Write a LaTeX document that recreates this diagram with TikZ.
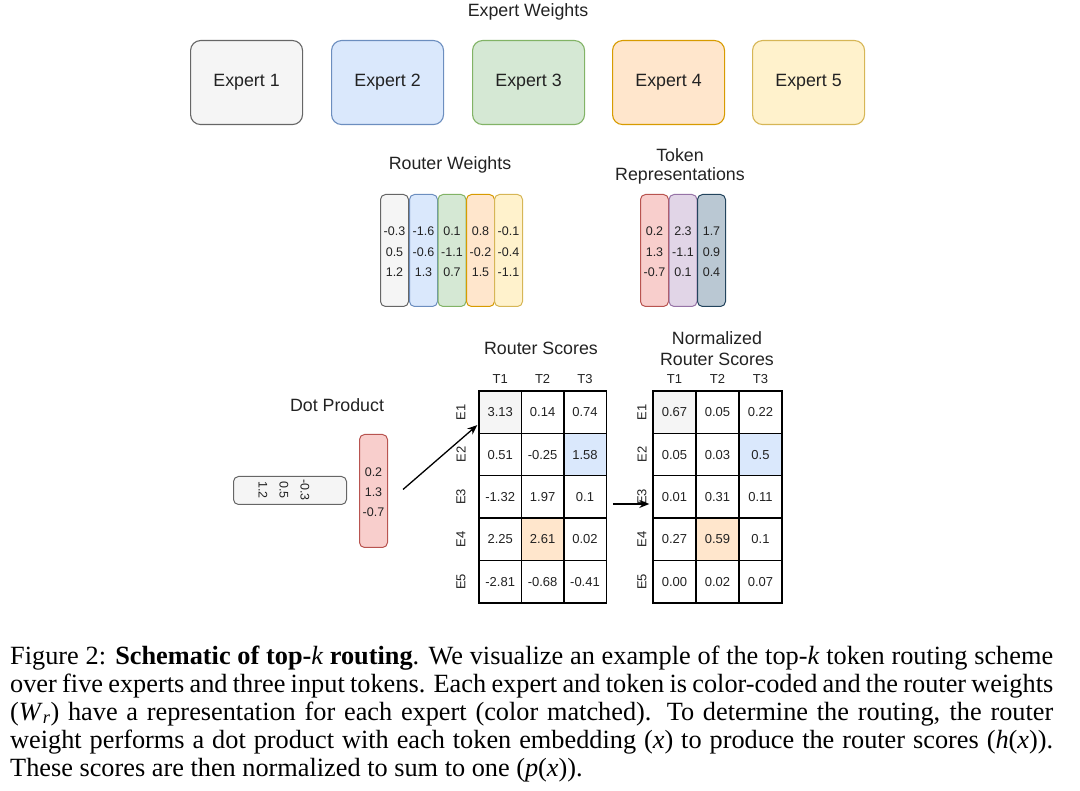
\documentclass[tikz,border=0pt]{standalone}
\usepackage{fontspec}
\setmainfont{Liberation Serif}
\newfontfamily\dsans{Liberation Sans}
\usetikzlibrary{arrows.meta}
\definecolor{gF}{HTML}{F5F5F5}\definecolor{gS}{HTML}{666666}
\definecolor{bF}{HTML}{DAE8FC}\definecolor{bS}{HTML}{6C8EBF}
\definecolor{grF}{HTML}{D5E8D4}\definecolor{grS}{HTML}{82B366}
\definecolor{oF}{HTML}{FFE6CC}\definecolor{oS}{HTML}{D79B00}
\definecolor{yF}{HTML}{FFF2CC}\definecolor{yS}{HTML}{D6B656}
\definecolor{rF}{HTML}{F8CECC}\definecolor{rS}{HTML}{B85450}
\definecolor{pF}{HTML}{E1D5E7}\definecolor{pS}{HTML}{9673A6}
\definecolor{sF}{HTML}{BAC8D3}\definecolor{sS}{HTML}{23445D}
\definecolor{txt}{HTML}{222222}
\begin{document}
\begin{tikzpicture}[x=1pt,y=-1pt,
  lbl/.style={font=\dsans\fontsize{17.8}{21}\selectfont, text=txt, inner sep=0},
  expbox/.style={draw, line width=1.1pt, rounded corners=10pt, minimum width=112pt, minimum height=84pt, font=\dsans\fontsize{17.8}{21}\selectfont, text=txt, anchor=north west},
  wcol/.style={draw, line width=1pt, rounded corners=5pt, minimum width=28pt, minimum height=112pt, anchor=north west, inner sep=0},
  num/.style={font=\dsans\fontsize{12.5}{15}\selectfont, text=txt, inner sep=0},
  cell/.style={draw=black, line width=1.4pt, minimum width=42.4pt, minimum height=42.4pt, inner sep=0, font=\dsans\fontsize{13}{16}\selectfont, text=txt},
  hdr/.style={font=\dsans\fontsize{13}{16}\selectfont, text=txt, inner sep=0},
  arr/.style={line width=1.3pt, -{Stealth[length=10pt,width=8pt]}},
  captext/.style={anchor=base west, inner sep=0, font=\fontsize{26.3}{28}\selectfont}
]
\useasboundingbox (0,0) rectangle (1080,791);

% Expert weights
\node[lbl] (ewt) at (528,12) {Expert Weights};
\node[expbox, fill=gF, draw=gS] (e1) at (190,40) {Expert 1};
\node[expbox, fill=bF, draw=bS] (e2) at (331,40) {Expert 2};
\node[expbox, fill=grF, draw=grS] (e3) at (472,40) {Expert 3};
\node[expbox, fill=oF, draw=oS] (e4) at (612,40) {Expert 4};
\node[expbox, fill=yF, draw=yS] (e5) at (752,40) {Expert 5};

% Router weights
\node[lbl] (rwt) at (450,165) {Router Weights};
\node[wcol, fill=gF, draw=gS] (w1) at (380,194) {};
\node[wcol, fill=bF, draw=bS] (w2) at (409,194) {};
\node[wcol, fill=grF, draw=grS] (w3) at (437.5,194) {};
\node[wcol, fill=oF, draw=oS] (w4) at (466,194) {};
\node[wcol, fill=yF, draw=yS] (w5) at (494,194) {};
\foreach \a/\b/\c [count=\k] in {-0.3/0.5/1.2, -1.6/-0.6/1.3, 0.1/-1.1/0.7, 0.8/-0.2/1.5, -0.1/-0.4/-1.1}{
  \node[num] (wv\k a) at (w\k.center |- 0,231) {\a};
  \node[num] (wv\k b) at (w\k.center |- 0,252) {\b};
  \node[num] (wv\k c) at (w\k.center |- 0,272) {\c};
}

% Token representations
\node[lbl] (tk1) at (680,155) {Token};
\node[lbl] (tk2) at (680,176) {Representations};
\node[wcol, fill=rF, draw=rS] (t1) at (640,194) {};
\node[wcol, fill=pF, draw=pS] (t2) at (668.5,194) {};
\node[wcol, fill=sF, draw=sS] (t3) at (697,194) {};
\foreach \a/\b/\c [count=\k] in {0.2/1.3/-0.7, 2.3/-1.1/0.1, 1.7/0.9/0.4}{
  \node[num] (tv\k a) at (t\k.center |- 0,231) {\a};
  \node[num] (tv\k b) at (t\k.center |- 0,252) {\b};
  \node[num] (tv\k c) at (t\k.center |- 0,272) {\c};
}

% Dot product
\node[lbl] (dpl) at (337,405) {Dot Product};
\node[draw=gS, fill=gF, line width=1pt, rounded corners=5pt, minimum width=113pt, minimum height=28pt, anchor=north west] (hw) at (233,476) {};
\node[num, rotate=-90] (h1) at (263,490) {1.2};
\node[num, rotate=-90] (h2) at (284,490) {0.5};
\node[num, rotate=-90] (h3) at (305,490) {-0.3};
\node[draw=rS, fill=rF, line width=1pt, rounded corners=5pt, minimum width=28pt, minimum height=113pt, anchor=north west] (dv) at (359,434) {};
\node[num] (d1) at (373.5,472) {0.2};
\node[num] (d2) at (373.5,492) {1.3};
\node[num] (d3) at (373.5,512) {-0.7};

% Router scores
\node[lbl] (rsl) at (541,348) {Router Scores};
\fill[gF] (479,391) rectangle +(42.4,42.4);
\fill[bF] (563.8,433.4) rectangle +(42.4,42.4);
\fill[oF] (521.4,518.2) rectangle +(42.4,42.4);
\foreach \t [count=\j] in {T1,T2,T3}{
  \node[hdr] (rt\j) at ({479+42.4*(\j-0.5)},379) {\t};
}
\foreach \r [count=\i] in {{3.13,0.14,0.74},{0.51,-0.25,1.58},{-1.32,1.97,0.1},{2.25,2.61,0.02},{-2.81,-0.68,-0.41}}{
  \node[hdr, rotate=90] (re\i) at (461,{391+42.4*(\i-0.5)}) {E\i};
  \foreach \v [count=\j] in \r {
    \node[cell] (rs-\i-\j) at ({479+42.4*(\j-0.5)},{391+42.4*(\i-0.5)}) {\v};
  }
}

% Normalized router scores
\node[lbl] (nsl1) at (717,338) {Normalized};
\node[lbl] (nsl2) at (717,359) {Router Scores};
\fill[gF] (653,391) rectangle +(43,42.4);
\fill[bF] (739,433.4) rectangle +(43,42.4);
\fill[oF] (696,518.2) rectangle +(43,42.4);
\foreach \t [count=\j] in {T1,T2,T3}{
  \node[hdr] (nt\j) at ({653+43*(\j-0.5)},379) {\t};
}
\foreach \r [count=\i] in {{0.67,0.05,0.22},{0.05,0.03,0.5},{0.01,0.31,0.11},{0.27,0.59,0.1},{0.00,0.02,0.07}}{
  \node[hdr, rotate=90] (ne\i) at (642,{391+42.4*(\i-0.5)}) {E\i};
  \foreach \v [count=\j] in \r {
    \node[cell, minimum width=43pt] (ns-\i-\j) at ({653+43*(\j-0.5)},{391+42.4*(\i-0.5)}) {\v};
  }
}

% Connectors
\coordinate (a1s) at ([xshift=15pt,yshift=1.5pt]dv.east);
\coordinate (a1e) at ([xshift=-1pt,yshift=9pt]rs-1-1.south west);
\draw[arr] (a1s) -- (a1e);
\coordinate (a2s) at ([xshift=6pt,yshift=-7pt]rs-3-3.east);
\coordinate (a2e) at ([xshift=-3pt,yshift=-7pt]ns-3-1.west);
\draw[arr] (a2s) -- (a2e);

% Caption
\node[captext] (c1) at (10,664) {\makebox[1043pt][s]{Figure 2: \textbf{Schematic of top-{\mdseries\itshape k} routing}. We visualize an example of the top-\textit{k} token routing scheme}};
\node[captext] (c2) at (10,692) {\makebox[1043pt][s]{over five experts and three input tokens. Each expert and token is color-coded and the router weights}};
\node[captext] (c3) at (10,720) {\makebox[1043pt][s]{(\textit{W}\textsubscript{\textit{r}}) have a representation for each expert (color matched). To determine the routing, the router}};
\node[captext] (c4) at (10,748) {\makebox[1043pt][s]{weight performs a dot product with each token embedding (\textit{x}) to produce the router scores (\textit{h}(\textit{x})).}};
\node[captext] (c5) at (10,776) {These scores are then normalized to sum to one (\textit{p}(\textit{x})).};
\end{tikzpicture}
\end{document}
